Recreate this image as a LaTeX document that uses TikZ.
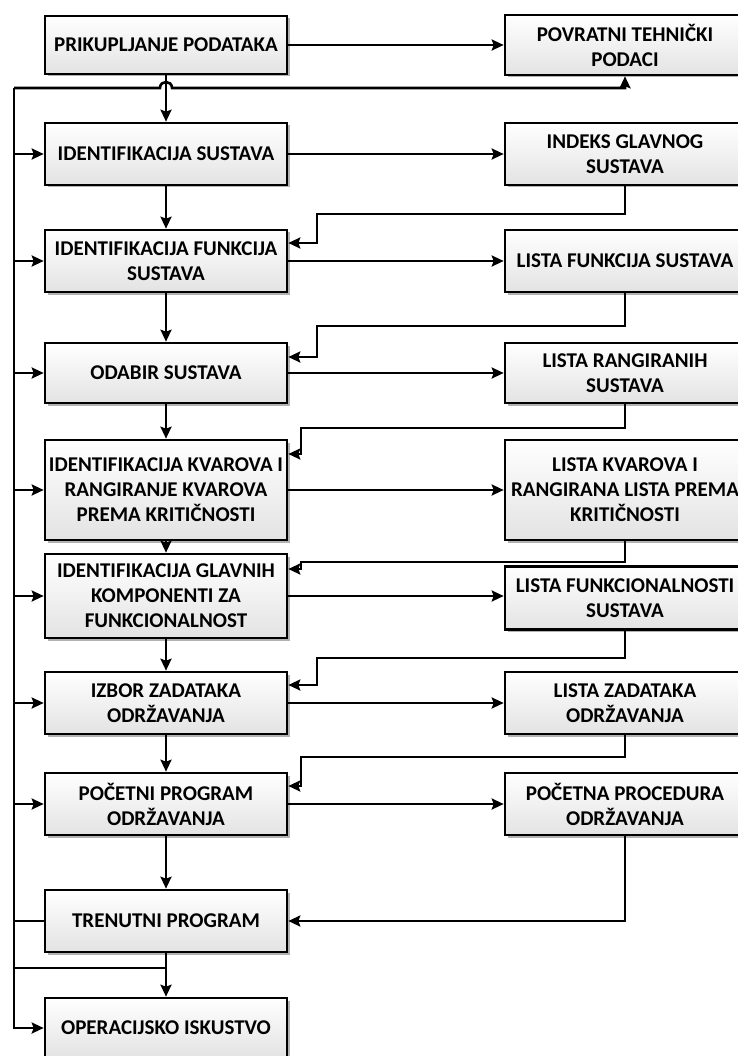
\documentclass[tikz,border=0pt]{standalone}
\usepackage{fontspec}
\setmainfont{Carlito}
\usepackage{tikz}
\usetikzlibrary{arrows.meta,shadows}

\begin{document}
\begin{tikzpicture}[x=1pt,y=-1pt,
	box/.style={draw,line width=2.6pt,rectangle,top color=white,bottom color=gray!22,
		drop shadow={shadow xshift=2.5pt,shadow yshift=-2.5pt,fill=black!60},
		align=center,inner sep=0pt,font=\fontsize{21}{25}\selectfont\bfseries},
	lbox/.style={box,minimum width=242pt},
	rbox/.style={box,minimum width=240pt},
	link/.style={line width=2.6pt,-{Stealth[length=12pt,width=11pt,inset=2pt]}},
	wire/.style={line width=2.6pt}]
	\useasboundingbox (0,0) rectangle (737,1056);
	% left column
	\node[lbox,minimum height=58pt] (l1) at (166,45) {PRIKUPLJANJE PODATAKA};
	\node[lbox,minimum height=62pt] (l2) at (166,154) {IDENTIFIKACIJA SUSTAVA};
	\node[lbox,minimum height=62pt] (l3) at (166,261) {IDENTIFIKACIJA FUNKCIJA\\SUSTAVA};
	\node[lbox,minimum height=60pt] (l4) at (166,373) {ODABIR SUSTAVA};
	\node[lbox,minimum height=100pt] (l5) at (166,490) {IDENTIFIKACIJA KVAROVA I\\RANGIRANJE KVAROVA\\PREMA KRITIČNOSTI};
	\node[lbox,minimum height=84pt] (l6) at (166,596) {IDENTIFIKACIJA GLAVNIH\\KOMPONENTI ZA\\FUNKCIONALNOST};
	\node[lbox,minimum height=62pt] (l7) at (166,703) {IZBOR ZADATAKA\\ODRŽAVANJA};
	\node[lbox,minimum height=62pt] (l8) at (166,804) {POČETNI PROGRAM\\ODRŽAVANJA};
	\node[lbox,minimum height=62pt] (l9) at (166,921) {TRENUTNI PROGRAM};
	\node[lbox,minimum height=60pt] (l10) at (166,1028) {OPERACIJSKO ISKUSTVO};
	% right column
	\node[rbox,minimum height=60pt] (r1) at (625,45) {POVRATNI TEHNIČKI\\PODACI};
	\node[rbox,minimum height=62pt] (r2) at (625,154) {INDEKS GLAVNOG\\SUSTAVA};
	\node[rbox,minimum height=62pt] (r3) at (625,261) {LISTA FUNKCIJA SUSTAVA};
	\node[rbox,minimum height=60pt] (r4) at (625,373) {LISTA RANGIRANIH\\SUSTAVA};
	\node[rbox,minimum height=100pt] (r5) at (625,490) {LISTA KVAROVA I\\RANGIRANA LISTA PREMA\\KRITIČNOSTI};
	\node[rbox,minimum height=63pt] (r6) at (625,598) {LISTA FUNKCIONALNOSTI\\SUSTAVA};
	\node[rbox,minimum height=62pt] (r7) at (625,703) {LISTA ZADATAKA\\ODRŽAVANJA};
	\node[rbox,minimum height=62pt] (r8) at (625,804) {POČETNA PROCEDURA\\ODRŽAVANJA};
	\coordinate (bustop) at (14,88);
	\coordinate (join) at (166,968);

	\foreach \i [count=\j from 2] in {1,...,8}
		\draw[link] (l\i.south) -- (l\j.north);
	\foreach \i in {1,...,8}
		\draw[link] (l\i.east) -- (l\i.east -| r\i.west);
	\foreach \a/\b/\m/\x/\y in {2/3/214/317/243,3/4/326/317/357,4/5/428/301/454,
			5/6/562/301/569,6/7/658/317/685,7/8/757/301/786}
		\draw[link] (r\a.south) |- (\x,\m) |- (l\b.east |- 0,\y);
	\draw[link] (r8.south) |- (l9.east);

	\draw[link] (bustop) -- (160,88) .. controls (160,80) and (172,80) .. (172,88) -| (r1.south);
	\draw[link] (bustop) -- (bustop |- l10.west) -- (l10.west);
	\foreach \i in {2,...,8}
		\draw[link] (bustop |- l\i.west) -- (l\i.west);
	\draw[wire] (l9.west) -- (l9.west -| bustop);
	\draw[link] (l9.south) -- (l10.north);
	\draw[wire] (join -| bustop) -- (join);
\end{tikzpicture}
\end{document}
